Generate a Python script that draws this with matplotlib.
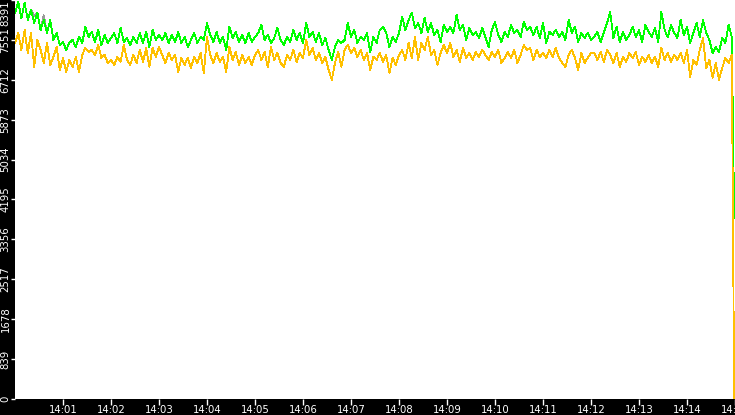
import numpy as np
import matplotlib
matplotlib.use("Agg")
import matplotlib.pyplot as plt

# ---- data (seconds after 14:00:00) ----
times = list(range(0, 900, 4)) + [899]

green = [
    8118, 8349, 8013, 8328, 7971, 8181, 7908, 8118, 7761, 7971, 7698, 7971, 7551, 7698, 7446, 7509,
    7341, 7488, 7551, 7404, 7614, 7488, 7824, 7614, 7719, 7509, 7761, 7446, 7656, 7488, 7593, 7698,
    7488, 7803, 7509, 7593, 7446, 7614, 7488, 7698, 7488, 7719, 7404, 7761, 7551, 7656,
    7551, 7698, 7488, 7656, 7509, 7719, 7488, 7614, 7404, 7551, 7698, 7488, 7614, 7551, 7908, 7656,
    7509, 7719, 7488, 7614, 7341, 7824, 7593, 7719, 7509, 7656, 7488, 7698, 7509, 7614, 7698, 7866,
    7551, 7656, 7488, 7593, 7803, 7551, 7446, 7614, 7509, 7761, 7551, 7698, 7488,
    7908, 7614, 7719, 7509, 7698, 7446, 7593, 7341, 7131, 7404, 7551, 7488, 7551, 7908, 7614, 7761,
    7488, 7614, 7551, 7698, 7299, 7614, 7488, 7761, 7824, 7698, 7404, 7614, 7509, 7698, 8034, 7761,
    7971, 8118, 7803, 7908, 7698, 8013, 7719, 7908, 7656, 7761, 7509, 7866, 7719,
    7824, 7698, 8076, 7761, 7866, 7551, 7803, 7656, 7719, 7593, 7803, 7614, 7404, 7761, 7929, 7656,
    7509, 7719, 7614, 7866, 7698, 7761, 7614, 7929, 7761, 7824, 7656, 7824, 7593, 7908, 7488, 7719,
    7656, 7761, 7614, 7719, 7551, 7971, 7698, 7824, 7509, 7698, 7593, 7698, 7551,
    7614, 7719, 7509, 7698, 7908, 8139, 7593, 7824, 7509, 7719, 7551, 7656, 7824, 7614, 7761, 7509,
    7866, 7719, 7614, 7803, 7509, 8139, 7761, 7614, 7866, 7698, 7593, 7971, 7656, 7824, 7488, 7698,
    7908, 7614, 7971, 7698, 7551, 7278, 7404, 7299, 7593, 7488, 7866, 7614,
    3800,
]

# grey series: mostly coincides with green, peeking above it in a few places
grey = [
    8118, 8349, 8013, 8328, 7971, 8181, 8060, 8118, 7761, 8070, 7698, 7971, 7551, 7698, 7446, 7509,
    7341, 7488, 7551, 7404, 7614, 7488, 7824, 7614, 7719, 7509, 7761, 7446, 7656, 7488, 7593, 7698,
    7488, 7803, 7509, 7593, 7446, 7614, 7488, 7698, 7488, 7719, 7404, 7761, 7551, 7656,
    7551, 7698, 7488, 7656, 7509, 7719, 7488, 7614, 7404, 7551, 7698, 7488, 7614, 7551, 7908, 7656,
    7509, 7719, 7488, 7614, 7341, 7824, 7593, 7719, 7509, 7656, 7488, 7698, 7509, 7614, 7698, 7866,
    7551, 7656, 7488, 7593, 7803, 7551, 7446, 7614, 7509, 7761, 7551, 7698, 7488,
    7908, 7614, 7719, 7509, 7698, 7446, 7593, 7341, 7131, 7404, 7551, 7488, 7551, 7908, 7614, 7761,
    7488, 7614, 7551, 7698, 7299, 7614, 7488, 7761, 7824, 7698, 7404, 7614, 7509, 7698, 8034, 7761,
    7971, 8118, 7803, 7908, 7698, 8013, 7719, 7908, 7656, 7761, 7509, 7866, 7719,
    7824, 7698, 8076, 7761, 7866, 7551, 7803, 7656, 7719, 7593, 7803, 7614, 7404, 7761, 7929, 7656,
    7509, 7719, 7614, 7866, 7698, 7761, 7614, 7929, 7761, 7824, 7656, 7824, 7593, 7908, 7488, 7719,
    7656, 7761, 7614, 7719, 7551, 7971, 7698, 7824, 7509, 7698, 7593, 7698, 7551,
    7614, 7719, 7509, 7698, 7908, 8139, 7593, 7824, 7509, 7719, 7551, 7656, 7824, 7614, 7761, 7509,
    7866, 7719, 7614, 7803, 7509, 8139, 7761, 7614, 7866, 7698, 7593, 7971, 7656, 7824, 7488, 7698,
    7908, 7614, 7971, 7698, 7551, 7278, 7404, 7299, 7593, 7488, 7866, 7614,
    3800,
]

orange = [
    7488, 7698, 7341, 7761, 7278, 7698, 6984, 7551, 7341, 7068, 7488, 7026, 7194, 7404, 6921, 7173,
    6879, 7131, 6984, 7194, 6879, 7236, 7383, 7299, 7341, 7236, 7446, 7173, 7236, 7068, 7131, 7026,
    7194, 7089, 7446, 7131, 7026, 7236, 7068, 7341, 7089, 7383, 6984, 7383, 7194, 7404,
    7236, 7068, 7278, 7131, 7236, 6879, 7173, 7026, 7173, 6963, 7194, 7068, 7278, 6858, 7614, 7236,
    7068, 7278, 7089, 7194, 6879, 7404, 7131, 7299, 7026, 7236, 7068, 7194, 7026, 7236, 7341, 7131,
    7299, 6984, 7404, 7131, 7278, 7068, 6984, 7236, 7131, 7341, 7089, 7278, 7173,
    7551, 7236, 7383, 7131, 7278, 7068, 7194, 6921, 6711, 7068, 7299, 6984, 7341, 7446, 7278, 7383,
    7194, 7341, 7131, 7278, 6921, 7194, 7131, 7278, 7089, 7236, 6858, 7173, 7026, 7236, 7341, 7131,
    7488, 7173, 7614, 7131, 7488, 7341, 7614, 7236, 7341, 7026, 7278, 7446, 7278,
    7488, 7194, 7341, 7089, 7383, 7173, 7278, 7131, 7299, 7194, 7341, 7236, 7131, 7299, 7194, 7341,
    7068, 7173, 7299, 7173, 7341, 7068, 7236, 7446, 7341, 7383, 7131, 7341, 7194, 7278, 7173, 7341,
    7194, 7383, 7173, 7068, 6984, 7236, 7341, 7173, 6921, 7278, 7068, 7173, 7278,
    7278, 7131, 7299, 7089, 7341, 7236, 7068, 7278, 6984, 7194, 7089, 7278, 7173, 7299, 7026, 7194,
    7089, 7236, 7068, 7194, 6984, 7383, 7131, 7278, 7089, 7236, 7131, 7278, 7068, 7341, 6774, 7131,
    7026, 7341, 7593, 6963, 7131, 6753, 7068, 6711, 6963, 7173, 7068, 7236,
    0,
]

y_ticks = [0, 839.1, 1678.2, 2517.3, 3356.4, 4195.5, 5034.6, 5873.7, 6712.8, 7551.9, 8391]
y_labels = ["0", "839", "1678", "2517", "3356", "4195", "5034", "5873", "6712", "7551", "8391"]
x_ticks = list(range(60, 901, 60))
x_labels = ["14:%02d" % m for m in range(1, 16)]

# ---- figure ----
fig = plt.figure(figsize=(7.35, 4.15), dpi=100, facecolor="black")
ax = fig.add_axes([15 / 735, 16 / 415, 720 / 735, 399 / 415])
ax.set_facecolor("white")

ax.plot(times, grey, color="#9a9a9a", lw=0.6, antialiased=False, zorder=2)
ax.plot(times, green, color="#00ff00", lw=0.6, antialiased=False, zorder=3)
ax.plot(times, orange, color="#ffc000", lw=0.6, antialiased=False, zorder=4)

ax.set_xlim(0, 900)
ax.set_ylim(0, 8391)
for s in ax.spines.values():
    s.set_visible(False)

ax.set_yticks(y_ticks)
ax.set_yticklabels(y_labels, rotation=90, va="center", ha="right")
ax.set_xticks(x_ticks)
ax.set_xticklabels(x_labels)
ax.tick_params(axis="y", colors="white", labelcolor="white", length=3, width=1,
               direction="out", pad=0.3, labelsize=7.3)
ax.tick_params(axis="x", colors="white", labelcolor="white", length=4, width=1,
               direction="out", pad=0.3, labelsize=7.3)
labs = ax.get_yticklabels()
labs[-1].set_va("top")
for lab in ax.get_xticklabels() + labs:
    lab.set_fontfamily("DejaVu Sans")

fig.savefig("out.png", dpi=100, facecolor="black")
